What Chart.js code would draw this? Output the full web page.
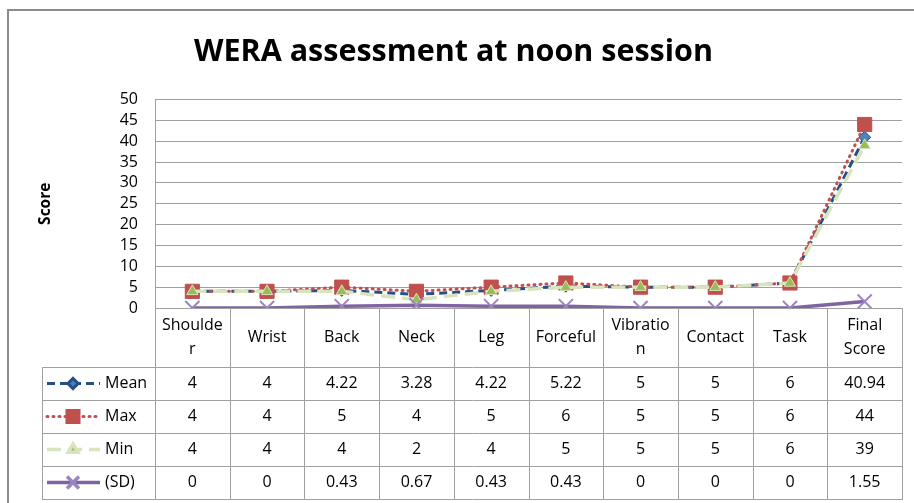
<!DOCTYPE html>
<html>
<head>
<meta charset="utf-8">
<title>WERA assessment at noon session</title>
<script src="https://cdn.jsdelivr.net/npm/chart.js@4.4.1/dist/chart.umd.min.js"></script>
<style>
  body { margin: 0; background: #fff; }
  canvas { display: block; }
</style>
</head>
<body>
<canvas id="wera" width="914" height="503"></canvas>
<script>
// header labels wrapped the same way as the excel data table
const categories = [["Shoulde", "r"], "Wrist", "Back", "Neck", "Leg", "Forceful", ["Vibratio", "n"], "Contact", "Task", ["Final", "Score"]];
const meanScores = [4, 4, 4.22, 3.28, 4.22, 5.22, 5, 5, 6, 40.94];
const maxScores = [4, 4, 5, 4, 5, 6, 5, 5, 6, 44];
const minScores = [4, 4, 4, 2, 4, 5, 5, 5, 6, 39];
const sdScores = [0, 0, 0.43, 0.67, 0.43, 0.43, 0, 0, 0, 1.55];
const seriesNames = ["Mean", "Max", "Min", "(SD)"];

Chart.defaults.font.family = "'Open Sans'";
Chart.defaults.font.size = 16;
Chart.defaults.color = '#000';

const gridGray = '#a0a0a0';

// frame + data table under the plot (excel "show data table with legend keys")
const dataTable = {
  id: 'dataTable',
  beforeDraw(chart) {
    const ctx = chart.ctx;
    ctx.save();
    ctx.fillStyle = '#fff';
    ctx.fillRect(0, 0, chart.width, chart.height);
    ctx.strokeStyle = '#8c8c8c';
    ctx.lineWidth = 2;
    ctx.beginPath();
    ctx.moveTo(8, chart.height);
    ctx.lineTo(8, 10);
    ctx.lineTo(chart.width, 10);
    ctx.stroke();
    ctx.restore();
  },
  afterDraw(chart) {
    const ctx = chart.ctx;
    const area = chart.chartArea;
    const x = chart.scales.x;
    const colW = x.width / categories.length;
    const headTop = area.bottom;
    const headBottom = headTop + 59;
    const rowH = 33;
    const rows = chart.data.datasets;
    const tableBottom = headBottom + rowH * rows.length;
    const tableLeft = 42;

    ctx.save();
    ctx.strokeStyle = gridGray;
    ctx.lineWidth = 1;
    ctx.beginPath();
    for (let i = 0; i <= categories.length; i++) {
      const xb = Math.round(x.left + i * colW) + 0.5;
      ctx.moveTo(xb, headTop);
      ctx.lineTo(xb, tableBottom);
    }
    ctx.moveTo(tableLeft + 0.5, headBottom);
    ctx.lineTo(tableLeft + 0.5, tableBottom);
    for (let r = 0; r <= rows.length; r++) {
      const yb = Math.round(headBottom + r * rowH) + 0.5;
      ctx.moveTo(tableLeft, yb);
      ctx.lineTo(x.right + 1, yb);
    }
    ctx.stroke();

    ctx.font = "16px 'Open Sans'";
    ctx.fillStyle = '#000';
    ctx.textBaseline = 'middle';
    rows.forEach(function(ds, r) {
      const cy = headBottom + r * rowH + rowH / 2;
      // values
      ctx.textAlign = 'center';
      ds.data.forEach(function(v, i) {
        ctx.fillText(String(v), x.getPixelForValue(i), cy);
      });
      // legend key
      ctx.save();
      ctx.strokeStyle = ds.borderColor;
      ctx.lineWidth = ds.borderWidth;
      ctx.lineCap = ds.borderCapStyle || 'butt';
      ctx.setLineDash(ds.borderDash || []);
      ctx.beginPath();
      ctx.moveTo(47, cy);
      ctx.lineTo(100, cy);
      ctx.stroke();
      ctx.setLineDash([]);
      ctx.fillStyle = ds.pointBackgroundColor;
      ctx.strokeStyle = ds.pointBorderColor;
      Chart.helpers.drawPoint(ctx, {
        pointStyle: ds.pointStyle,
        radius: ds.pointRadius * 0.85,
        rotation: 0,
        borderWidth: ds.pointBorderWidth
      }, 73, cy);
      ctx.restore();
      ctx.textAlign = 'left';
      ctx.fillText(ds.label, 105, cy);
    });
    ctx.restore();
  }
};

const chart = new Chart(document.getElementById('wera'), {
  type: 'line',
  data: {
    labels: categories,
    datasets: [
      {
        label: seriesNames[0],
        data: meanScores,
        order: 4,
        borderColor: '#254f85',
        borderWidth: 3,
        borderDash: [8, 5],
        pointStyle: 'rectRot',
        pointRadius: 6,
        pointBackgroundColor: '#4f81bd',
        pointBorderColor: '#254f85',
        pointBorderWidth: 1
      },
      {
        label: seriesNames[1],
        data: maxScores,
        order: 3,
        borderColor: '#c0504d',
        borderWidth: 3,
        borderDash: [1, 5],
        borderCapStyle: 'round',
        pointStyle: 'rect',
        pointRadius: 10,
        pointBackgroundColor: '#c0504d',
        pointBorderColor: '#c0504d',
        pointBorderWidth: 1
      },
      {
        label: seriesNames[2],
        data: minScores,
        order: 2,
        borderColor: '#d7e4bd',
        borderWidth: 3.5,
        borderDash: [14, 7],
        pointStyle: 'triangle',
        pointRadius: 6.5,
        pointBackgroundColor: '#9bbb59',
        pointBorderColor: '#d7e4bd',
        pointBorderWidth: 1
      },
      {
        label: seriesNames[3],
        data: sdScores,
        order: 1,
        borderColor: '#8064a2',
        borderWidth: 3.5,
        pointStyle: 'crossRot',
        pointRadius: 10,
        pointBackgroundColor: '#9a85be',
        pointBorderColor: '#9a85be',
        pointBorderWidth: 2
      }
    ]
  },
  options: {
    responsive: false,
    animation: false,
    devicePixelRatio: 1,
    layout: { padding: { top: 0, right: 7, bottom: 0, left: 0 } },
    elements: { line: { tension: 0 } },
    plugins: {
      legend: { display: false },
      tooltip: { enabled: false },
      title: {
        display: true,
        text: 'WERA assessment at noon session',
        font: { size: 30.5, weight: 'bold' },
        color: '#000',
        padding: { top: 34, bottom: 28.9 }
      }
    },
    scales: {
      x: {
        offset: true,
        grid: { display: false, drawTicks: false },
        border: { display: true, color: gridGray },
        ticks: {
          autoSkip: false,
          maxRotation: 0,
          crossAlign: 'center',
          padding: 17,
          font: { size: 16, lineHeight: 1.5 }
        },
        afterFit: function(scale) { scale.height = 195; }
      },
      y: {
        min: 0,
        max: 50,
        ticks: { stepSize: 5, autoSkip: false, padding: 17, font: { size: 16 } },
        grid: { color: gridGray, drawTicks: false },
        border: { display: true, color: gridGray },
        title: {
          display: true,
          text: 'Score',
          font: { size: 15.5, weight: 'bold' },
          padding: { top: 36, bottom: 0 }
        },
        afterFit: function(scale) { scale.width = 155; }
      }
    }
  },
  plugins: [dataTable]
});
</script>
</body>
</html>
